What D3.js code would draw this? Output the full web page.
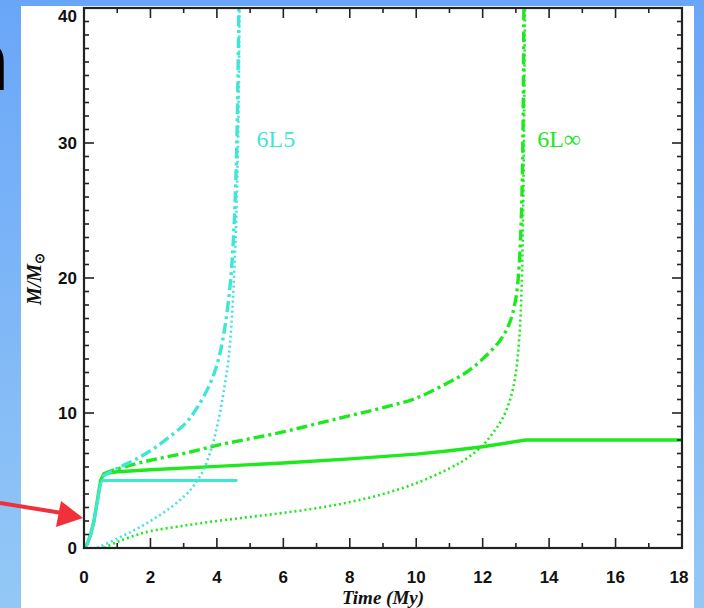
<!DOCTYPE html>
<html><head><meta charset="utf-8">
<script src="https://cdn.jsdelivr.net/npm/d3@7"></script>
<style>html,body{margin:0;padding:0;overflow:hidden;}</style>
</head><body>
<svg id="c" width="704" height="608"></svg>
<script>
// ---- data ----
const xTicks = [0,2,4,6,8,10,12,14,16,18];
const yTicks = [0,10,20,30,40];
const cyanSolid = [[0,0],[0.1,0.3],[0.2,1.0],[0.3,2.0],[0.4,3.4],[0.5,4.8],[0.55,5.0],[1,5.0],[2,5.0],[3,5.0],[4,5.0],[4.62,5.0]];
const cyanDashDot = [[0.55,5.3],[1,5.9],[1.5,6.5],[2,7.2],[2.5,8.1],[3,9.1],[3.3,10],[3.6,11.2],[3.9,12.8],[4.1,14.5],[4.25,16.5],[4.4,19.5],[4.5,23],[4.58,28],[4.63,34],[4.66,40]];
const cyanDotted = [[0.4,0],[1,0.7],[1.5,1.3],[2,2.0],[2.5,2.8],[3,3.8],[3.3,4.6],[3.6,5.8],[3.85,7.5],[4.05,9.5],[4.2,11.5],[4.35,14],[4.45,17],[4.55,22],[4.62,28],[4.66,34],[4.68,40]];
const greenSolid = [[0,0],[0.1,0.3],[0.2,1.0],[0.3,2.0],[0.4,3.5],[0.5,5.0],[0.6,5.5],[1,5.65],[2,5.8],[4,6.05],[6,6.3],[8,6.6],[10,6.95],[11,7.2],[12,7.5],[13.3,8.0],[18,8.0]];
const greenDashDot = [[0.6,5.5],[1,5.85],[2,6.5],[3,7.0],[4,7.6],[5,8.1],[6,8.6],[7,9.2],[8,9.8],[9,10.4],[10,11.1],[11,12.3],[11.5,13.0],[12,14.0],[12.5,15.3],[12.8,16.6],[13.0,18.5],[13.1,21],[13.17,25],[13.21,30],[13.24,40]];
const greenDotted = [[0.6,0],[1,0.45],[1.5,0.9],[2,1.25],[3,1.65],[4,2.0],[5,2.3],[6,2.6],[7,2.95],[8,3.4],[9,4.0],[10,4.8],[11,5.9],[11.5,6.6],[12,7.6],[12.3,8.5],[12.6,9.6],[12.85,11.2],[13.0,13.0],[13.1,15.5],[13.17,19],[13.22,25],[13.25,32],[13.27,40]];
const seriesLabels = [{text:"6L5", x:4.65, y:30, color:"#3fe6d6"},{text:"6L\u221E", x:13.1, y:30, color:"#22e622"}];

// ---- drawing ----
const svg = d3.select("#c");
const defs = svg.append("defs");
const g1 = defs.append("linearGradient").attr("id","bg").attr("x1",0).attr("y1",0).attr("x2",0).attr("y2",1);
g1.append("stop").attr("offset","0%").attr("stop-color","#6aa6f8");
g1.append("stop").attr("offset","100%").attr("stop-color","#93c8f6");
svg.append("rect").attr("width",704).attr("height",608).attr("fill","url(#bg)");
svg.append("rect").attr("x",21).attr("y",6).attr("width",673).attr("height",602).attr("fill","#ffffff");

// cut-off title letter
svg.append("text").attr("x",9).attr("y",90).attr("text-anchor","end")
  .attr("font-family","Liberation Sans, Arial, sans-serif").attr("font-weight","bold")
  .attr("font-size",86).attr("fill","#000").text("n");

const L=84, R=682, T=8, B=548;
const x = d3.scaleLinear().domain([0,18]).range([L,R]);
const y = d3.scaleLinear().domain([0,40]).range([B,T]);

const clip = defs.append("clipPath").attr("id","pc");
clip.append("rect").attr("x",L).attr("y",T).attr("width",R-L).attr("height",B-T);

const lineLin = d3.line().x(d=>x(d[0])).y(d=>y(d[1]));
const lineY = d3.line().x(d=>x(d[0])).y(d=>y(d[1])).curve(d3.curveCatmullRom.alpha(0.5));
const plot = svg.append("g").attr("clip-path","url(#pc)");
const CY="#3fe6d6", GR="#1ee81e";
function draw(data, color, w, dash, gen){
  plot.append("path").datum(data).attr("d",(gen||lineY)).attr("fill","none")
    .attr("stroke",color).attr("stroke-width",w).attr("stroke-dasharray",dash||null)
    .attr("stroke-linejoin","round");
}
draw(greenDotted, GR, 2.6, "2,3");
draw(greenDashDot, GR, 3.4, "11,4,3,4");
draw(greenSolid, GR, 3.4, null, lineLin);
draw(cyanDotted, CY, 2.6, "2,3");
draw(cyanDashDot, CY, 3.4, "11,4,3,4");
draw(cyanSolid, CY, 3, null, lineLin);

// axes with ticks inward on all sides
const axCol="#222";
const ax = svg.append("g");
const minorX = d3.range(0,19,1), minorY = d3.range(0,41,1);
function tick(x1,y1,x2,y2,w){ax.append("line").attr("x1",x1).attr("y1",y1).attr("x2",x2).attr("y2",y2).attr("stroke",axCol).attr("stroke-width",w);}
minorX.forEach(v=>{
  const maj = xTicks.includes(v); const len = maj?10:5;
  tick(x(v),B,x(v),B-len,1.6); tick(x(v),T,x(v),T+len,1.6);
});
minorY.forEach(v=>{
  const maj = yTicks.includes(v); const len = maj?10:5;
  tick(L,y(v),L+len,y(v),1.6); tick(R,y(v),R-len,y(v),1.6);
});
ax.append("rect").attr("x",L).attr("y",T).attr("width",R-L).attr("height",B-T)
  .attr("fill","none").attr("stroke",axCol).attr("stroke-width",2.2);

// tick labels
const tf = "Liberation Sans, Arial, sans-serif";
svg.append("g").selectAll("text").data(xTicks).join("text")
  .attr("x",d=>x(d)-(d===18?3:0)).attr("y",583).attr("text-anchor","middle")
  .attr("font-family",tf).attr("font-weight","bold").attr("font-size",17).attr("fill","#111").text(d=>d);
svg.append("g").selectAll("text").data(yTicks).join("text")
  .attr("x",77).attr("y",d=>y(d)+(d===40?14:6)).attr("text-anchor","end")
  .attr("font-family",tf).attr("font-weight","bold").attr("font-size",17).attr("fill","#111").text(d=>d);

// axis titles
svg.append("text").attr("x",383).attr("y",604).attr("text-anchor","middle")
  .attr("font-family","Liberation Serif, serif").attr("font-style","italic").attr("font-weight","bold")
  .attr("font-size",19).attr("fill","#111")
  .text("Time (My)");
const yl = svg.append("text").attr("transform","translate(41,279) rotate(-90)").attr("text-anchor","middle")
  .attr("font-family","Liberation Serif, serif").attr("font-style","italic").attr("font-weight","bold")
  .attr("font-size",20).attr("fill","#111");
yl.append("tspan").text("M/M");
yl.append("tspan").attr("dy",3).attr("font-size",13).attr("font-style","normal").text("\u2299");

// series labels
svg.append("g").selectAll("text").data(seriesLabels).join("text")
  .attr("x",d=>x(d.x)+18).attr("y",d=>y(d.y)+4).attr("text-anchor","start")
  .attr("font-family","Liberation Serif, serif").attr("font-size",24).attr("fill",d=>d.color)
  .text(d=>d.text);

// red arrow
svg.append("line").attr("x1",0).attr("y1",503).attr("x2",62).attr("y2",513)
  .attr("stroke","#f0303a").attr("stroke-width",4);
svg.append("path").attr("d","M61,501 L83,518 L56,527 Z").attr("fill","#f0303a");
</script>
</body></html>
